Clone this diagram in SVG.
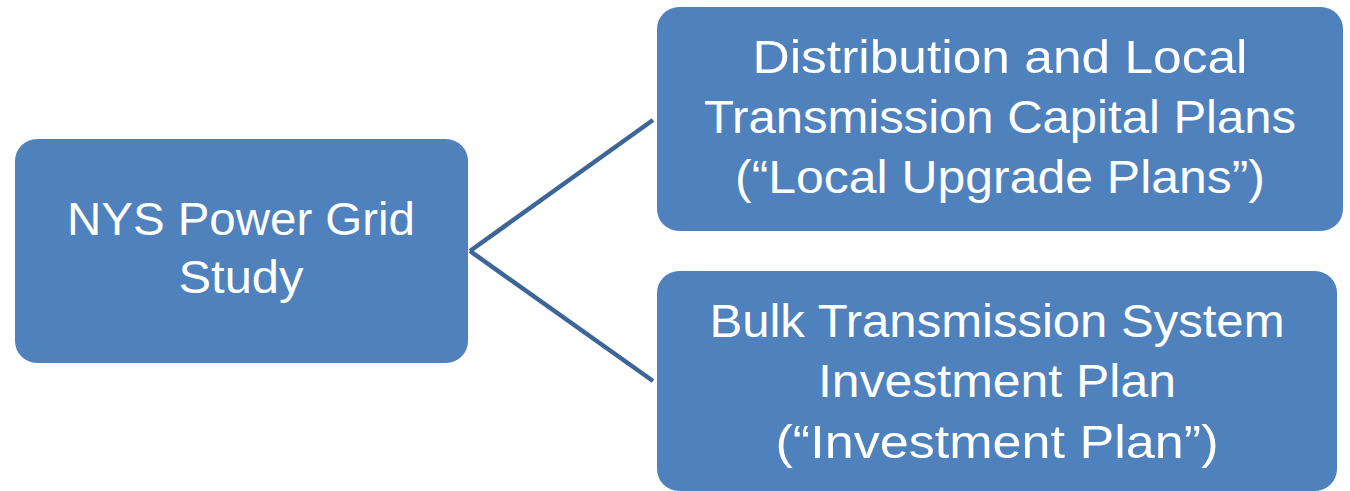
<svg xmlns="http://www.w3.org/2000/svg" width="1350" height="491" viewBox="0 0 1350 491">
  <style>
    .box { fill: #4f81bd; }
    .lbl { fill: #ffffff; font-family: "Liberation Sans", Arial, sans-serif; text-anchor: middle; }
    .conn { stroke: #3e6597; stroke-width: 4.5; fill: none; stroke-linecap: butt; }
  </style>
  <rect width="1350" height="491" fill="#ffffff"/>
  <g id="connectors">
    <line class="conn" x1="470" y1="251" x2="653" y2="120"/>
    <line class="conn" x1="470" y1="251" x2="653" y2="381"/>
  </g>
  <g id="node-study">
    <rect class="box" x="15" y="139" width="453" height="224" rx="22" ry="22"/>
    <text class="lbl" font-size="47" x="241" y="235" textLength="348" lengthAdjust="spacingAndGlyphs">NYS Power Grid</text>
    <text class="lbl" font-size="47" x="241" y="293" textLength="125" lengthAdjust="spacingAndGlyphs">Study</text>
  </g>
  <g id="node-local">
    <rect class="box" x="657" y="7" width="686" height="224" rx="22" ry="22"/>
    <text class="lbl" font-size="46" x="1000" y="73" textLength="495" lengthAdjust="spacingAndGlyphs">Distribution and Local</text>
    <text class="lbl" font-size="46" x="1000" y="133" textLength="592" lengthAdjust="spacingAndGlyphs">Transmission Capital Plans</text>
    <text class="lbl" font-size="46" x="1000" y="193" textLength="530" lengthAdjust="spacingAndGlyphs">(“Local Upgrade Plans”)</text>
  </g>
  <g id="node-bulk">
    <rect class="box" x="657" y="271" width="680" height="220" rx="22" ry="22"/>
    <text class="lbl" font-size="46" x="997" y="337" textLength="575" lengthAdjust="spacingAndGlyphs">Bulk Transmission System</text>
    <text class="lbl" font-size="46" x="997" y="397" textLength="358" lengthAdjust="spacingAndGlyphs">Investment Plan</text>
    <text class="lbl" font-size="46" x="997" y="458" textLength="443" lengthAdjust="spacingAndGlyphs">(“Investment Plan”)</text>
  </g>
</svg>
